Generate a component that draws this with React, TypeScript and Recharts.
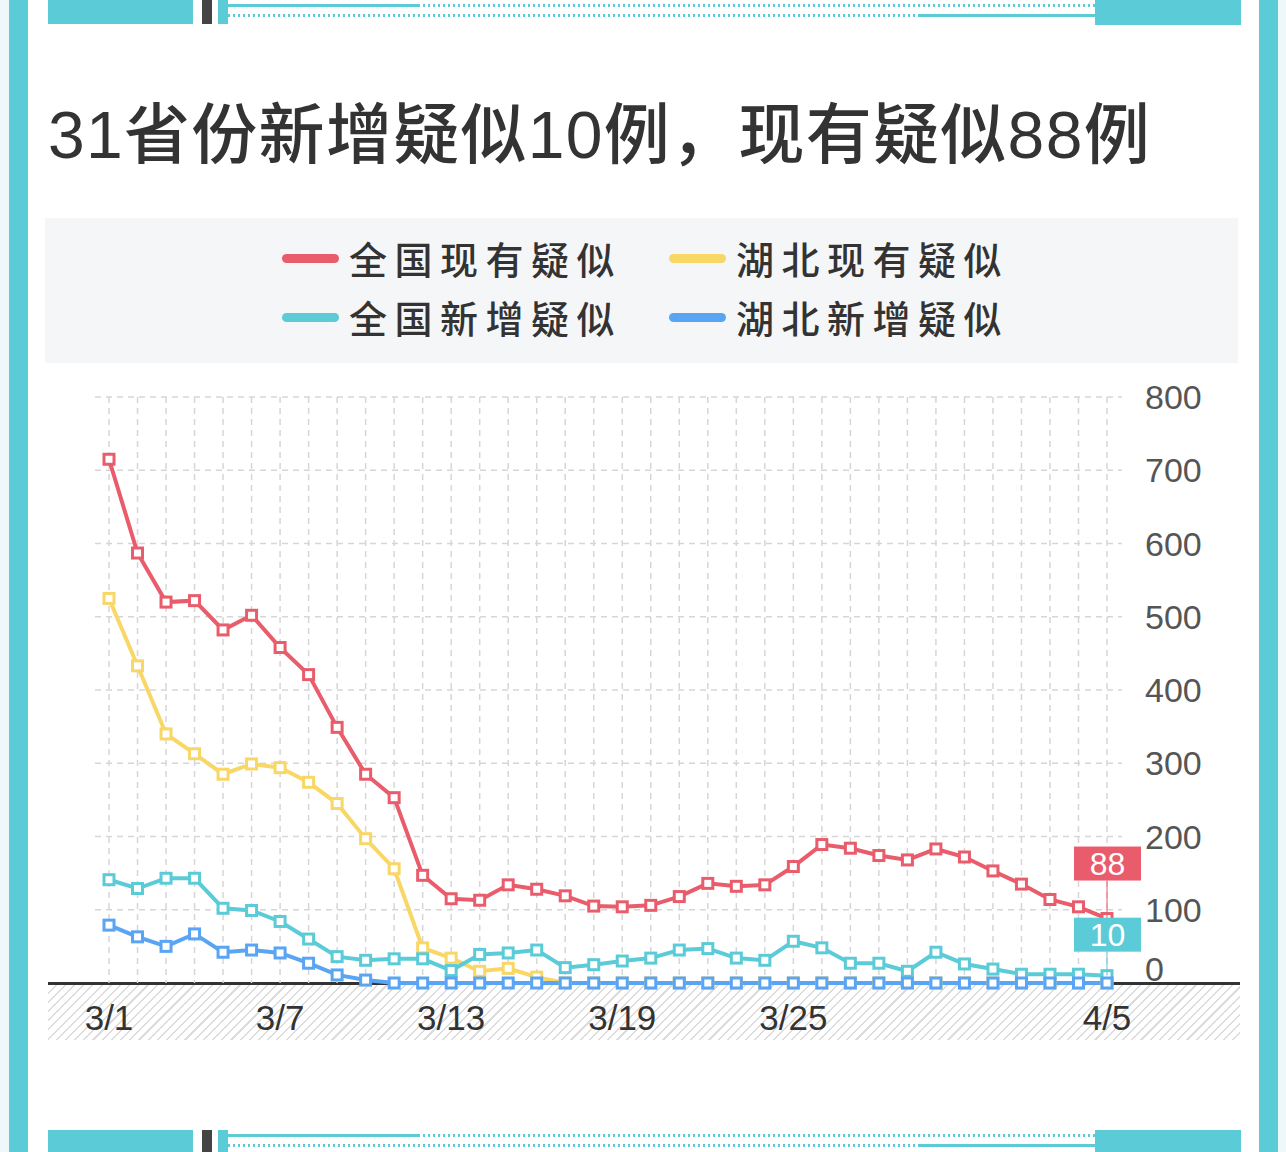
import React from 'react';
import { LineChart, Line, XAxis, YAxis, CartesianGrid, LabelList } from 'recharts';

const dates = [
  '3/1', '3/2', '3/3', '3/4', '3/5', '3/6', '3/7', '3/8', '3/9', '3/10',
  '3/11', '3/12', '3/13', '3/14', '3/15', '3/16', '3/17', '3/18', '3/19', '3/20',
  '3/21', '3/22', '3/23', '3/24', '3/25', '3/26', '3/27', '3/28', '3/29', '3/30',
  '3/31', '4/1', '4/2', '4/3', '4/4', '4/5',
];
const shownDates = ['3/1', '3/7', '3/13', '3/19', '3/25', '4/5'];

// 全国现有疑似
const nationalCurrent = [
  715, 587, 520, 522, 482, 502, 458, 421, 349, 285,
  253, 147, 115, 113, 134, 128, 119, 105, 104, 106,
  118, 136, 132, 134, 159, 189, 184, 174, 168, 183,
  172, 153, 135, 114, 104, 88,
];
// 湖北现有疑似
const hubeiCurrent = [
  525, 433, 340, 313, 285, 299, 294, 274, 245, 197,
  156, 48, 34, 16, 20, 8, 0, 0, 0, 0,
  0, 0, 0, 0, 0, 0, 0, 0, 0, 0,
  0, 0, 0, 0, 0, 0,
];
// 全国新增疑似
const nationalNew = [
  141, 129, 143, 143, 102, 99, 84, 60, 36, 31,
  33, 33, 17, 39, 41, 45, 21, 25, 30, 34,
  45, 47, 34, 31, 57, 48, 27, 27, 16, 42,
  26, 19, 12, 12, 12, 10,
];
// 湖北新增疑似
const hubeiNew = [
  79, 63, 50, 67, 42, 45, 41, 27, 11, 4,
  0, 0, 0, 0, 0, 0, 0, 0, 0, 0,
  0, 0, 0, 0, 0, 0, 0, 0, 0, 0,
  0, 0, 0, 0, 0, 0,
];
const yTicks = [0, 100, 200, 300, 400, 500, 600, 700, 800];
const gridValues = [100, 200, 300, 400, 500, 600, 700, 800];

const RED = '#e95c6c';
const YELLOW = '#f8d766';
const CYAN = '#5ccbd8';
const BLUE = '#5aa4f4';
const NUM_FONT = '"Liberation Sans", "Noto Sans CJK SC", sans-serif';
const CJK_FONT = '"Noto Sans CJK SC", sans-serif';

const data = dates.map((d, i) => ({
  date: d,
  nc: nationalCurrent[i],
  hc: hubeiCurrent[i],
  nn: nationalNew[i],
  hn: hubeiNew[i],
}));

// vertical grid lines only at the day positions (no plot-edge lines)
const dayLines = ({ xAxis }: any) => {
  const s = xAxis?.scale;
  if (!s) return [];
  const f = typeof s === 'function' ? s : s.map?.bind(s);
  if (!f) return [];
  return dates.map((d) => f(d)).filter((v: any) => typeof v === 'number' && !isNaN(v));
};

const squareDot = (color: string) => (props: any) => {
  const { cx, cy, index } = props;
  if (cx == null || cy == null) return <g key={index} />;
  return (
    <rect key={index} x={cx - 5} y={cy - 5} width={10} height={10}
      fill="#fff" stroke={color} strokeWidth={3} />
  );
};

const endLabel = (color: string, offset: number) => (props: any) => {
  const { x, y, index, value } = props;
  if (index !== dates.length - 1) return null;
  const cy = y - offset;
  return (
    <g>
      <line x1={x} x2={x} y1={cy + 17} y2={y} stroke={color} strokeWidth={1} />
      <rect x={x - 33} y={cy - 17} width={67} height={34} fill={color} />
      <text x={x + 0.5} y={cy + 11} textAnchor="middle" fill="#fff"
        fontSize={32} fontFamily={NUM_FONT}>{value}</text>
    </g>
  );
};

const XTick = (props: any) => {
  const { x, y, payload } = props;
  if (!shownDates.includes(payload.value)) return <g />;
  return (
    <text x={x} y={y + 47} textAnchor="middle" fill="#333"
      fontSize={35} fontFamily={NUM_FONT}>{payload.value}</text>
  );
};

const YTick = (props: any) => {
  const { x, y, payload } = props;
  const dy = payload.value === 0 ? -2 : 12;
  return (
    <text x={x + 23} y={y + dy} textAnchor="start" fill="#555"
      fontSize={34} fontFamily={NUM_FONT}>{payload.value}</text>
  );
};

const dotted = `repeating-linear-gradient(90deg, ${CYAN} 0 2px, transparent 2px 5px)`;

const Deco = ({ top }: { top: number }) => (
  <>
    <div style={{ position: 'absolute', left: 48, top, width: 145, height: 24, background: CYAN }} />
    <div style={{ position: 'absolute', left: 202, top, width: 10, height: 24, background: '#444' }} />
    <div style={{ position: 'absolute', left: 218, top, width: 10, height: 24, background: CYAN }} />
    <div style={{ position: 'absolute', left: 228, top: top + 4, width: 190, height: 3, background: CYAN }} />
    <div style={{ position: 'absolute', left: 418, top: top + 4, width: 677, height: 3, background: dotted }} />
    <div style={{ position: 'absolute', left: 228, top: top + 14, width: 691, height: 3, background: dotted }} />
    <div style={{ position: 'absolute', left: 919, top: top + 14, width: 176, height: 3, background: CYAN }} />
    <div style={{ position: 'absolute', left: 1095, top, width: 146, height: 25, background: CYAN }} />
  </>
);

const LegendItem = ({ color, label, left, top }: { color: string; label: string; left: number; top: number }) => (
  <>
    <div style={{ position: 'absolute', left, top: top - 4, width: 57, height: 9, borderRadius: 5, background: color }} />
    <div style={{
      position: 'absolute', left: left + 67, top: top - 22, height: 44, lineHeight: '44px',
      fontSize: 38, fontWeight: 500, letterSpacing: 7.5, color: '#333', fontFamily: CJK_FONT, whiteSpace: 'nowrap',
    }}>{label}</div>
  </>
);

export default function App() {
  return (
    <div style={{ position: 'absolute', left: 0, top: 0, width: 1286, height: 1152, background: '#fff', overflow: 'hidden' }}>
      <div style={{ position: 'absolute', left: 0, top: 0, width: 9, height: 1152, background: '#eef8fa' }} />
      <div style={{ position: 'absolute', left: 9, top: 0, width: 19, height: 1152, background: CYAN }} />
      <div style={{ position: 'absolute', left: 1259, top: 0, width: 19, height: 1152, background: CYAN }} />
      <div style={{ position: 'absolute', left: 1278, top: 0, width: 8, height: 1152, background: '#eef8fa' }} />
      <Deco top={0} />
      <Deco top={1130} />

      <div style={{
        position: 'absolute', left: 48, top: 99, height: 72, lineHeight: '72px', fontSize: 66,
        fontWeight: 500, letterSpacing: 1.3, color: '#333', fontFamily: NUM_FONT, whiteSpace: 'nowrap',
      }}>31省份新增疑似10例，现有疑似88例</div>

      <div style={{ position: 'absolute', left: 45, top: 218, width: 1193, height: 145, background: '#f5f6f8' }} />
      <LegendItem color={RED} label="全国现有疑似" left={282} top={258} />
      <LegendItem color={YELLOW} label="湖北现有疑似" left={669} top={258} />
      <LegendItem color={CYAN} label="全国新增疑似" left={282} top={317} />
      <LegendItem color={BLUE} label="湖北新增疑似" left={669} top={317} />

      <div style={{
        position: 'absolute', left: 48, top: 985, width: 1192, height: 55,
        background: 'repeating-linear-gradient(135deg, #fff 0 5px, #dcdcdc 5px 6.5px)',
      }} />
      <div style={{ position: 'absolute', left: 48, top: 982, width: 1192, height: 3, background: '#333' }} />

      <div style={{ position: 'absolute', left: 0, top: 365 }}>
        <LineChart width={1286} height={695} data={data}
          margin={{ top: 32, right: 44, left: 95, bottom: 17 }}>
          <CartesianGrid stroke="#d6d6d6" strokeWidth={1.5} strokeDasharray="6 5" syncWithTicks
            horizontalValues={gridValues} verticalCoordinatesGenerator={dayLines} />
          <XAxis dataKey="date" interval={0} padding={{ left: 14, right: 15 }}
            axisLine={false} tickLine={false} tickSize={0} tickMargin={0} height={60} tick={<XTick />} />
          <YAxis orientation="right" domain={[0, 800]} ticks={yTicks} width={120}
            axisLine={false} tickLine={false} tickSize={0} tickMargin={0} tick={<YTick />} />
          <Line type="linear" dataKey="nc" stroke={RED} strokeWidth={4} dot={squareDot(RED)} isAnimationActive={false}>
            <LabelList dataKey="nc" content={endLabel(RED, 55)} />
          </Line>
          <Line type="linear" dataKey="hc" stroke={YELLOW} strokeWidth={4} dot={squareDot(YELLOW)} isAnimationActive={false} />
          <Line type="linear" dataKey="nn" stroke={CYAN} strokeWidth={4} dot={squareDot(CYAN)} isAnimationActive={false}>
            <LabelList dataKey="nn" content={endLabel(CYAN, 41)} />
          </Line>
          <Line type="linear" dataKey="hn" stroke={BLUE} strokeWidth={4} dot={squareDot(BLUE)} isAnimationActive={false} />
        </LineChart>
      </div>
    </div>
  );
}
